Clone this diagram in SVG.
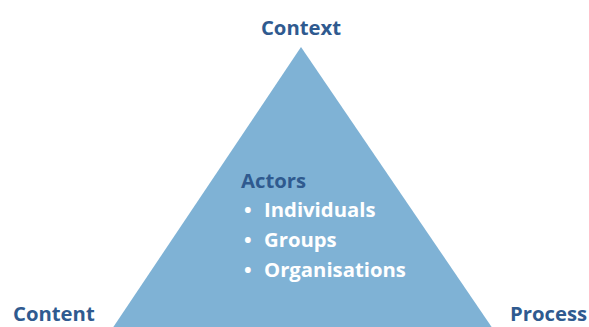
<svg xmlns="http://www.w3.org/2000/svg" width="589" height="327" viewBox="0 0 589 327">
<style>
.lbl{font-family:"Open Sans","Noto Sans",sans-serif;font-weight:bold;font-size:20.3px;fill:#2f5a8f}
.item{font-family:"Open Sans","Noto Sans",sans-serif;font-weight:bold;font-size:20.3px;fill:#ffffff}
</style>
<rect width="589" height="327" fill="#ffffff"/>
<g id="triangle"><polygon points="301,47 112,329 493,329" fill="#7fb2d5"/></g>
<g id="context"><text class="lbl" x="301" y="35" text-anchor="middle">Context</text></g>
<g id="content"><text class="lbl" x="13" y="321">Content</text></g>
<g id="process"><text class="lbl" x="510" y="321">Process</text></g>
<g id="actors">
<text class="lbl" x="241" y="188">Actors</text>
<text class="item" x="244" y="217">•</text><text class="item" x="264" y="217">Individuals</text>
<text class="item" x="244" y="247">•</text><text class="item" x="264" y="247">Groups</text>
<text class="item" x="244" y="277">•</text><text class="item" x="264" y="277">Organisations</text>
</g>
<g id="connectors"/>
</svg>
